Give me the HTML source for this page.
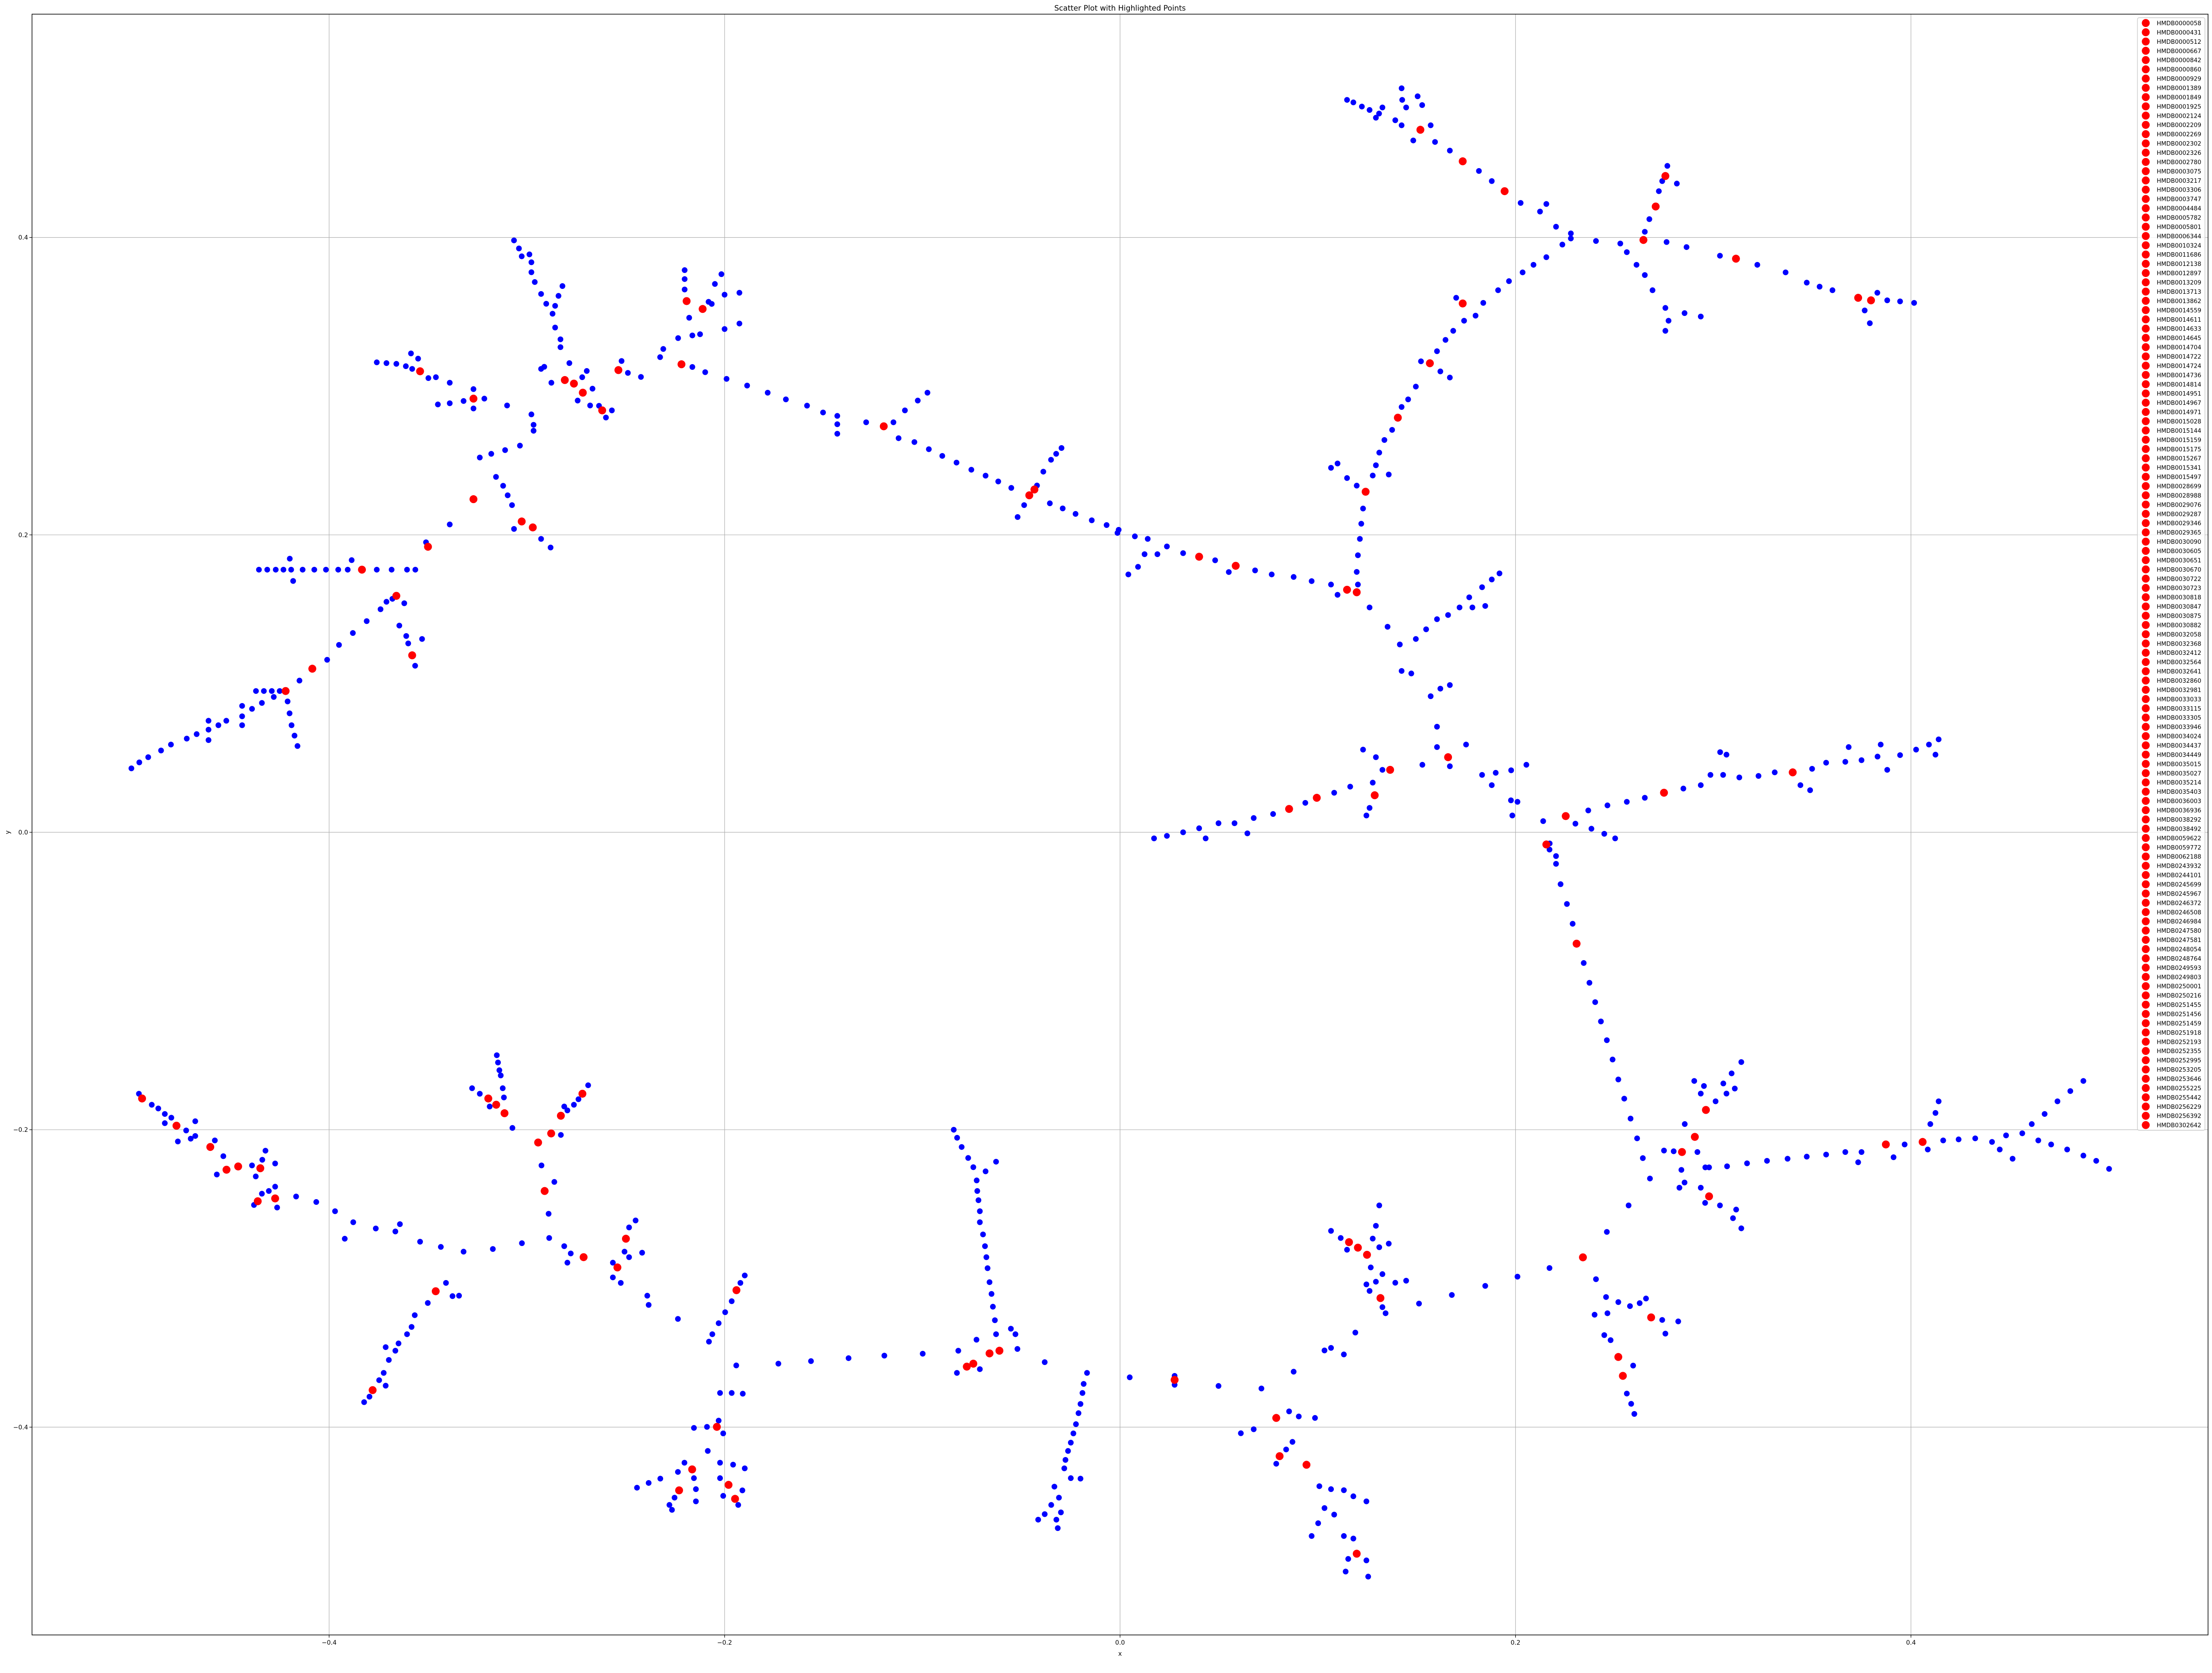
<!DOCTYPE html>
<html><head><meta charset="utf-8"><title>Scatter Plot with Highlighted Points</title>
<style>
html,body{margin:0;padding:0;background:#fff;overflow:hidden;width:100%;height:100%;}
svg{display:block;position:fixed;left:0;top:0;width:100vw;height:100vh;font-family:"DejaVu Sans","Liberation Sans",sans-serif;}
</style></head>
<body>
<svg id="chart" viewBox="0 0 5042 3781" preserveAspectRatio="none" xmlns="http://www.w3.org/2000/svg">
<rect x="0" y="0" width="5042" height="3781" fill="#fff"/>
<text x="2553" y="24" font-size="17" text-anchor="middle" fill="#000">Scatter Plot with Highlighted Points</text>
<g id="grid"></g>
<g id="blue"></g>
<g id="red"></g>
<rect x="73" y="32" width="4960" height="3663" fill="none" stroke="#000" stroke-width="1.5"/>
<g id="axes"></g>
<text x="2553" y="3742" font-size="14" text-anchor="middle">x</text>
<text x="22" y="1881" font-size="14" text-anchor="middle" transform="rotate(-90 22 1881)">y</text>
<g id="legend"></g>
</svg>
<script>
const xTicks = [-0.4, -0.2, 0.0, 0.2, 0.4];
const yTicks = [-0.4, -0.2, 0.0, 0.2, 0.4];
const xTickLabels = ["\u22120.4", "\u22120.2", "0.0", "0.2", "0.4"];
const yTickLabels = ["\u22120.4", "\u22120.2", "0.0", "0.2", "0.4"];

const branchTopLeft = [
[-0.500,0.043],[-0.496,0.047],[-0.4915,0.0505],[-0.485,0.055],[-0.480,0.059],[-0.472,0.063],[-0.467,0.066],[-0.461,0.069],[-0.461,0.062],[-0.461,0.075],[-0.456,0.072],[-0.452,0.075],[-0.444,0.078],[-0.444,0.085],[-0.444,0.072],[-0.439,0.083],[-0.434,0.087],[-0.428,0.091],
[-0.437,0.095],[-0.433,0.095],[-0.429,0.095],[-0.425,0.095],[-0.421,0.088],[-0.420,0.080],[-0.419,0.072],[-0.4175,0.065],[-0.416,0.058],
[-0.415,0.102],[-0.4085,0.110],[-0.401,0.116],[-0.395,0.126],[-0.388,0.134],[-0.381,0.142],[-0.374,0.150],[-0.368,0.157],[-0.366,0.159],
[-0.3645,0.139],[-0.361,0.132],[-0.360,0.127],[-0.358,0.119],[-0.3565,0.112],[-0.353,0.130],[-0.371,0.155],[-0.362,0.154],
[-0.4355,0.1766],[-0.4313,0.1766],[-0.427,0.1766],[-0.4231,0.1766],[-0.4192,0.1766],[-0.4134,0.1766],[-0.4075,0.1766],[-0.4016,0.1766],[-0.3954,0.1766],[-0.3906,0.1766],[-0.3834,0.1766],[-0.3759,0.1766],[-0.3684,0.1766],[-0.3606,0.1766],[-0.3564,0.1766],
[-0.4199,0.184],[-0.4182,0.169],[-0.3886,0.183],
[-0.35,0.192],[-0.351,0.195],[-0.339,0.207],[-0.327,0.224],[-0.3156,0.239],[-0.3238,0.252],[-0.318,0.2545],[-0.311,0.257],[-0.3035,0.26],[-0.2977,0.281],[-0.2966,0.274],[-0.2966,0.270],[-0.310,0.287],
[-0.312,0.233],[-0.3097,0.2266],[-0.3075,0.22],[-0.3026,0.209],[-0.297,0.205],[-0.3065,0.204],[-0.2928,0.1973],[-0.288,0.1915],
[-0.3759,0.316],[-0.371,0.3155],[-0.366,0.315],[-0.3612,0.3134],[-0.358,0.3116],[-0.354,0.310],[-0.3586,0.322],[-0.355,0.3185],[-0.3498,0.3054],[-0.346,0.306],[-0.339,0.3023],
[-0.345,0.2877],[-0.339,0.2885],[-0.332,0.290],[-0.327,0.2916],[-0.3215,0.2916],[-0.327,0.298],[-0.327,0.285],
[-0.3065,0.398],[-0.304,0.3926],[-0.3026,0.3873],[-0.2987,0.3886],[-0.2977,0.3833],[-0.2977,0.3766],[-0.296,0.37],[-0.2928,0.362],[-0.2902,0.3554],[-0.287,0.3487],[-0.2857,0.3394],[-0.283,0.3315],[-0.283,0.3262],[-0.2857,0.354],[-0.284,0.3607],[-0.282,0.3673],
[-0.2928,0.3116],[-0.2912,0.313],[-0.2876,0.3023],[-0.2808,0.3041],[-0.2762,0.3017],[-0.2717,0.2956],[-0.2785,0.3155],[-0.2697,0.3102],[-0.272,0.306],[-0.2668,0.2983],[-0.2743,0.2903],[-0.268,0.287],[-0.2619,0.2837],[-0.257,0.2837],[-0.26,0.2789],[-0.2635,0.2868],
[-0.2537,0.3108],[-0.2489,0.3089],[-0.2423,0.3062],[-0.2521,0.3169],
[-0.2218,0.3147],[-0.2202,0.378],[-0.2202,0.372],[-0.2202,0.365],[-0.2192,0.3572],[-0.2179,0.346],[-0.2111,0.3519],[-0.2081,0.3567],[-0.2049,0.3687],[-0.2016,0.3753],[-0.2065,0.3553],[-0.2,0.3615],[-0.1925,0.3628],
[-0.2163,0.3341],[-0.2124,0.3349],[-0.2,0.3384],[-0.1925,0.3421],[-0.2235,0.3323],[-0.2326,0.3195],[-0.231,0.325],
[-0.2163,0.3129],[-0.2098,0.3094],[-0.199,0.3049],[-0.1886,0.3004],[-0.1782,0.2956],[-0.169,0.2911],[-0.1583,0.2869],[-0.1502,0.2823],[-0.1430,0.2744],[-0.143,0.268],[-0.143,0.280],[-0.1195,0.273],[-0.1284,0.2757],
[-0.1146,0.2757],[-0.1088,0.2837],[-0.1023,0.2903],[-0.0974,0.2956],[-0.112,0.265],
[-0.104,0.2624],[-0.0967,0.2576],[-0.0899,0.2531],[-0.0827,0.2486],[-0.0752,0.2438],[-0.068,0.2398],[-0.0616,0.2359],[-0.055,0.2316],[-0.0459,0.2266],[-0.0433,0.2305],
[-0.042,0.2332],[-0.0388,0.2425],[-0.0349,0.2505],[-0.0323,0.2545],[-0.0296,0.2584],[-0.0485,0.22],[-0.0518,0.212],
[-0.0355,0.2212],[-0.029,0.2178],[-0.0225,0.2141],[-0.0143,0.2098],[-0.0068,0.2066],[-0.0013,0.2013]
];

const branchTopRight = [
[0.1148,0.4925],[0.118,0.4908],[0.1223,0.488],[0.1262,0.4857],[0.131,0.4833],[0.1294,0.4805],[0.1327,0.4874],[0.1424,0.5003],[0.1427,0.4925],[0.1447,0.4874],[0.1505,0.4949],[0.1528,0.489],[0.1392,0.4788],[0.1424,0.4754],[0.1519,0.4724],[0.1483,0.4652],[0.1571,0.4754],
[0.1593,0.4642],[0.1668,0.4584],[0.1733,0.4512],[0.1815,0.4447],[0.1880,0.4379],[0.1945,0.4311],[0.2026,0.4232],[0.2124,0.4174],[0.2156,0.4225],[0.2205,0.4072],[0.228,0.4027],[0.228,0.3993],
[0.2407,0.3976],[0.2530,0.3959],[0.2647,0.3983],[0.2764,0.3969],[0.2865,0.3935],[0.3034,0.3877],[0.3115,0.3857],[0.3223,0.3816],[0.3366,0.3765],[0.3473,0.3696],[0.3538,0.3669],[0.3603,0.3645],[0.3733,0.3594],[0.3798,0.3577],[0.3880,0.3577],[0.3945,0.357],[0.4016,0.356],[0.3766,0.3509],[0.3792,0.3423],[0.383,0.3628],
[0.2654,0.4038],[0.2677,0.4123],[0.2709,0.4208],[0.2725,0.4311],[0.2742,0.4379],[0.2758,0.4413],[0.2768,0.4481],[0.2816,0.4362],
[0.2563,0.3901],[0.2612,0.3816],[0.2654,0.3747],[0.2693,0.3645],[0.2758,0.3526],[0.2774,0.344],[0.2758,0.3372],[0.2855,0.3491],[0.2937,0.3468],
[0.2237,0.3952],[0.2156,0.3867],[0.2091,0.3816],[0.2036,0.3765],[0.1967,0.3706],[0.1912,0.3645],[0.1837,0.356],[0.1733,0.3556],[0.17,0.3594],[0.1798,0.3474],[0.1740,0.344],[0.1685,0.3372],[0.1646,0.3311],[0.1603,0.3235],[0.1567,0.3154],[0.1522,0.3167],[0.1620,0.3099],[0.1668,0.3058],[0.1496,0.2997],[0.1457,0.2911],[0.1424,0.286],[0.1405,0.2788],[0.1376,0.2706],[0.1337,0.2638],[0.1311,0.2553],[0.1294,0.2468],[0.1278,0.2399],[0.1359,0.2406],[0.1067,0.2451],[0.11,0.248],[0.1148,0.2382],[0.1197,0.2331],[0.1242,0.229],[0.1229,0.2177],[0.1220,0.2075],[0.1213,0.1973],[0.1203,0.1863],[0.1197,0.1751],[0.1203,0.1666],[0.1148,0.1631],[0.1197,0.1614],[0.11,0.1597],
[-0.0007,0.2034],[0.0075,0.1990],[0.014,0.1973],[0.0237,0.1922],[0.0124,0.187],[0.0042,0.1734],[0.0091,0.1785],[0.0189,0.187],[0.0319,0.1877],[0.04,0.1853],[0.0481,0.1829],[0.0585,0.1792],[0.0550,0.175],[0.0683,0.1761],[0.0767,0.1734],[0.0878,0.1717],[0.0969,0.1689],[0.1067,0.1666],
[0.1262,0.1512],[0.1353,0.1382],[0.1415,0.1263],[0.1424,0.1085],[0.1473,0.1068],[0.1571,0.0915],[0.1620,0.0966],[0.1668,0.099],[0.1603,0.071],[0.1659,0.0505],[0.1603,0.0573],[0.1750,0.0590],[0.1668,0.0444],
[0.1496,0.13],[0.1548,0.1365],[0.1603,0.1433],[0.1659,0.1461],[0.1717,0.1512],[0.1782,0.1512],[0.1847,0.1522],[0.1766,0.158],[0.1831,0.1648],[0.1880,0.17],[0.1919,0.1741],
[0.0172,-0.0041],[0.0237,-0.0024],[0.0319,0.0],[0.04,0.0027],[0.0433,-0.0041],[0.0498,0.0061],[0.0579,0.0061],[0.0676,0.0096],[0.0644,-0.0007],[0.0774,0.0123],[0.0855,0.0157],[0.0937,0.0198],[0.0995,0.0232],[0.1083,0.0266],[0.1164,0.0307],[0.1288,0.0249],[0.1278,0.0334],[0.1262,0.0164],[0.1246,0.0113],[0.1229,0.0556],[0.1294,0.0505],[0.1366,0.042],[0.1327,0.042],[0.1529,0.0454],
[0.1831,0.0386],[0.19,0.040],[0.1978,0.0417],[0.2055,0.0454],[0.1880,0.0317],[0.1977,0.0215],[0.1984,0.0113],[0.2010,0.0205],
[0.214,0.0075],[0.2254,0.0109],[0.2173,-0.0075],[0.2205,-0.016],[0.2303,0.0058],[0.2384,0.0024],[0.2449,-0.001],[0.2504,-0.0041],
[0.2368,0.0147],[0.2465,0.0181],[0.2563,0.0205],[0.2654,0.0232],[0.2751,0.0266],[0.2849,0.0294],[0.2937,0.0317],[0.2986,0.0386],[0.3050,0.0386],[0.3132,0.0369],[0.3067,0.0522],[0.3035,0.0539],[0.3229,0.0379],[0.3311,0.0403],[0.3402,0.0403],[0.3441,0.0317],[0.349,0.0283],[0.35,0.0427],[0.3571,0.0468],[0.3668,0.0474],[0.3685,0.0573],[0.375,0.0485],[0.3831,0.0509],[0.3847,0.0590],[0.388,0.0420],[0.3945,0.0519],[0.4026,0.0556],[0.4091,0.0590],[0.4140,0.0625],[0.4124,0.0522]
];

const branchBottomRight = [
[0.2156,-0.0082],[0.2172,-0.0116],[0.2205,-0.0212],[0.2228,-0.0349],[0.226,-0.0482],[0.2289,-0.0615],[0.2309,-0.0749],[0.2345,-0.0879],[0.2374,-0.1012],[0.2403,-0.1142],[0.2432,-0.1272],[0.2462,-0.1398],[0.2491,-0.1528],[0.2520,-0.1662],[0.2550,-0.1791],[0.2582,-0.1925],[0.2615,-0.2058],[0.2644,-0.2191],[0.2680,-0.2328],[0.2572,-0.2509],[0.2462,-0.2687],[0.2341,-0.2858],[0.2172,-0.293],[0.201,-0.2988],[0.1847,-0.305],[0.1678,-0.3111],[0.1512,-0.3169],[0.1317,-0.3132],[0.1327,-0.3193],[0.1343,-0.3234],[0.1190,-0.3364],[0.1067,-0.3467],[0.1034,-0.3484],[0.1132,-0.3511],[0.0878,-0.3627],[0.0715,-0.374],[0.0498,-0.3723],[0.0276,-0.3682],[0.0276,-0.3655],[0.0276,-0.3715],[0.0049,-0.3665],
[0.1158,-0.2756],[0.1203,-0.2793],[0.1249,-0.2841],[0.1067,-0.268],[0.1116,-0.2728],[0.1148,-0.2807],[0.1311,-0.2509],[0.1294,-0.2646],[0.1278,-0.2732],[0.1311,-0.2790],[0.1359,-0.2766],[0.1268,-0.2926],[0.1246,-0.304],[0.1294,-0.3022],[0.1327,-0.2971],[0.1392,-0.3029],[0.1447,-0.3015],[0.1262,-0.3084],
[0.2407,-0.3005],[0.2458,-0.3125],[0.2520,-0.3159],[0.2579,-0.3186],[0.2628,-0.3166],[0.2660,-0.3135],[0.2686,-0.3262],[0.2742,-0.3279],[0.2823,-0.3289],[0.2758,-0.3371],[0.2400,-0.3244],[0.2465,-0.3234],[0.2449,-0.3381],[0.2481,-0.3415],[0.2520,-0.3528],[0.2595,-0.3586],[0.2543,-0.3655],[0.2563,-0.3774],[0.2585,-0.3843],[0.2601,-0.3911],
[0.2963,-0.1867],[0.2907,-0.2048],[0.2842,-0.215],[0.2751,-0.214],[0.2800,-0.2145],[0.2920,-0.2150],[0.2904,-0.1672],[0.2937,-0.1757],[0.2953,-0.1706],[0.3051,-0.1689],[0.3067,-0.1757],[0.3109,-0.1723],[0.3093,-0.1621],[0.3142,-0.1545],[0.3012,-0.1809],[0.2856,-0.1962],[0.2839,-0.227],[0.2960,-0.2253],[0.2979,-0.2253],[0.2855,-0.2355],[0.2829,-0.2390],[0.2979,-0.2448],[0.2937,-0.239],[0.2959,-0.2492],[0.3034,-0.2509],[0.3116,-0.2537],[0.3100,-0.2595],[0.3142,-0.2663],
[0.307,-0.2246],[0.3171,-0.2226],[0.3272,-0.2209],[0.3376,-0.2195],[0.3473,-0.2181],[0.3571,-0.2167],[0.3668,-0.215],[0.3733,-0.2219],[0.3750,-0.215],[0.3873,-0.2099],[0.3912,-0.2185],[0.3968,-0.2099],[0.4059,-0.2082],[0.4085,-0.2133],[0.4098,-0.1962],[0.4124,-0.1887],[0.4140,-0.1809],[0.4163,-0.2072],[0.4241,-0.2065],[0.4325,-0.2058],[0.4410,-0.2082],[0.4449,-0.2133],[0.4514,-0.2195],[0.4481,-0.2038],[0.4563,-0.2024],[0.4611,-0.1962],[0.4676,-0.1894],[0.4741,-0.1809],[0.4806,-0.174],[0.4872,-0.1672],[0.4644,-0.2072],[0.4709,-0.2099],[0.4790,-0.2133],[0.4872,-0.2174],[0.4937,-0.2209],[0.5002,-0.2263],
[0.0611,-0.4041],[0.0676,-0.4014],[0.0790,-0.3938],[0.0855,-0.3894],[0.0904,-0.3928],[0.0986,-0.3938],[0.0872,-0.4099],[0.0840,-0.4150],[0.0807,-0.4195],[0.0790,-0.4246],[0.0943,-0.4253],[0.1008,-0.4397],[0.1067,-0.4417],[0.1132,-0.4424],[0.1180,-0.4465],[0.1246,-0.4499],[0.1034,-0.4544],[0.1083,-0.4588],[0.1002,-0.4646],[0.0969,-0.4732],[0.1132,-0.4732],[0.1180,-0.4749],[0.1197,-0.4851],[0.1154,-0.4886],[0.1141,-0.4971],[0.1246,-0.4896],[0.1255,-0.5005]
];

const branchBottomLeft = [
[-0.4962,-0.1758],[-0.4946,-0.1783],[-0.4946,-0.179],[-0.4897,-0.1832],[-0.4864,-0.1857],[-0.4831,-0.1894],[-0.4798,-0.1919],[-0.4831,-0.1956],[-0.4772,-0.1973],[-0.4723,-0.2005],[-0.4677,-0.1943],[-0.4677,-0.2042],[-0.4765,-0.2079],[-0.4700,-0.206],[-0.4601,-0.2116],[-0.4578,-0.2072],[-0.4535,-0.2178],[-0.4519,-0.2269],[-0.4568,-0.2301],[-0.446,-0.2247],[-0.4348,-0.2259],[-0.4390,-0.2240],[-0.4322,-0.2141],[-0.4338,-0.2202],[-0.4273,-0.2227],[-0.4371,-0.2314],[-0.4305,-0.2412],[-0.4273,-0.2383],[-0.4340,-0.2430],[-0.4361,-0.2481],[-0.438,-0.2506],[-0.4273,-0.2462],[-0.4263,-0.2523],
[-0.4167,-0.2449],[-0.4065,-0.2486],[-0.3970,-0.2548],[-0.3878,-0.2622],[-0.3921,-0.2733],[-0.3764,-0.2664],[-0.3665,-0.2684],[-0.3642,-0.2635],[-0.3540,-0.2753],[-0.3435,-0.2788],[-0.3320,-0.282],[-0.3172,-0.2802],[-0.3025,-0.2763],[-0.2887,-0.2728],
[-0.289,-0.2565],[-0.291,-0.2412],[-0.2861,-0.2351],[-0.2926,-0.224],[-0.2943,-0.2086],[-0.2877,-0.2025],[-0.2828,-0.2035],[-0.3073,-0.1988],[-0.3113,-0.1889],[-0.3155,-0.1832],[-0.3195,-0.179],[-0.3277,-0.1721],[-0.3238,-0.1758],[-0.3188,-0.1844],[-0.3116,-0.1783],[-0.3122,-0.1721],[-0.3132,-0.1635],[-0.3139,-0.1600],[-0.3146,-0.1548],[-0.3152,-0.1499],[-0.2828,-0.1906],[-0.2811,-0.1844],[-0.2795,-0.1870],[-0.2762,-0.1832],[-0.2739,-0.1795],[-0.2719,-0.1758],[-0.2690,-0.1701],
[-0.2811,-0.2783],[-0.2778,-0.2832],[-0.2713,-0.2857],[-0.2795,-0.2894],
[-0.245,-0.261],[-0.2483,-0.2657],[-0.2499,-0.2733],[-0.2506,-0.2820],[-0.2483,-0.2857],[-0.2417,-0.2827],[-0.2565,-0.2894],[-0.2542,-0.2926],[-0.2565,-0.2993],[-0.2525,-0.303],[-0.2391,-0.3116],[-0.2384,-0.3178],[-0.2236,-0.3272],
[-0.3376,-0.3119],[-0.3409,-0.303],[-0.3343,-0.3116],[-0.3461,-0.3086],[-0.3501,-0.3165],[-0.3567,-0.3247],[-0.3583,-0.3326],[-0.3606,-0.3375],[-0.3649,-0.3437],[-0.3714,-0.3462],[-0.3665,-0.3486],[-0.3698,-0.3548],[-0.3724,-0.3635],[-0.3747,-0.3684],[-0.3714,-0.3721],[-0.378,-0.3751],[-0.3796,-0.3795],[-0.3823,-0.3832],
[-0.1941,-0.3585],[-0.1728,-0.3573],[-0.1563,-0.3556],[-0.1373,-0.3536],[-0.1192,-0.3519],[-0.0998,-0.3506],[-0.0818,-0.3486],[-0.0775,-0.3593],[-0.0742,-0.3573],[-0.0825,-0.3635],[-0.0709,-0.361],[-0.066,-0.3504],[-0.061,-0.3486],[-0.0529,-0.3375],[-0.0552,-0.3338],[-0.0519,-0.3474],[-0.0726,-0.3412],[-0.0627,-0.3375],[-0.0381,-0.3563],
[-0.0841,-0.2],[-0.0824,-0.2054],[-0.0801,-0.2116],[-0.0768,-0.219],[-0.0742,-0.2252],[-0.0627,-0.2215],[-0.0680,-0.2280],[-0.0725,-0.2341],[-0.0722,-0.2412],[-0.0716,-0.2474],[-0.0709,-0.2548],[-0.0709,-0.2622],[-0.0693,-0.2704],[-0.0683,-0.2783],[-0.0676,-0.2857],[-0.0670,-0.2931],[-0.066,-0.3025],[-0.065,-0.3104],[-0.0643,-0.319],[-0.0633,-0.3281],
[-0.0167,-0.3635],[-0.0184,-0.3709],[-0.019,-0.377],[-0.02,-0.3844],[-0.021,-0.3906],[-0.0223,-0.398],[-0.0236,-0.4042],[-0.0249,-0.4104],[-0.0263,-0.4160],[-0.0276,-0.422],[-0.0282,-0.4277],[-0.0249,-0.4343],[-0.02,-0.4346],[-0.0332,-0.44],[-0.0309,-0.4474],[-0.0348,-0.4523],[-0.0299,-0.4573],[-0.0322,-0.4622],[-0.0315,-0.4679],[-0.0414,-0.4622],[-0.0381,-0.4585],
[-0.1964,-0.377],[-0.2023,-0.377],[-0.1908,-0.3775],[-0.203,-0.3956],[-0.2155,-0.4005],[-0.2089,-0.3998],[-0.2039,-0.3998],[-0.2007,-0.4042],[-0.2085,-0.416],[-0.2023,-0.4239],[-0.1957,-0.4252],[-0.1898,-0.4277],[-0.2164,-0.4284],[-0.2203,-0.4239],[-0.2236,-0.4301],[-0.2325,-0.4346],[-0.2384,-0.4375],[-0.2443,-0.4407],[-0.223,-0.4425],[-0.2253,-0.4474],[-0.2279,-0.4523],[-0.2266,-0.4556],[-0.2155,-0.4343],[-0.2145,-0.4417],[-0.2145,-0.4499],[-0.198,-0.4388],[-0.2007,-0.4462],[-0.2023,-0.4343],[-0.191,-0.4425],[-0.1947,-0.4482],[-0.1931,-0.4523],
[-0.194,-0.3079],[-0.1898,-0.298],[-0.1920,-0.303],[-0.1964,-0.3153],[-0.1997,-0.3227],[-0.203,-0.3301],[-0.2062,-0.3375],[-0.2079,-0.3425]
];

const highlightPoints = [
[-0.422,0.095],[-0.4085,0.110],[-0.366,0.159],[-0.358,0.119],[-0.3834,0.1766],[-0.35,0.192],[-0.327,0.224],[-0.3026,0.209],[-0.297,0.205],[-0.354,0.310],[-0.327,0.2916],[-0.2808,0.3041],[-0.2762,0.3017],[-0.2717,0.2956],[-0.2619,0.2837],[-0.2537,0.3108],[-0.2218,0.3147],[-0.2192,0.3572],[-0.2111,0.3519],[-0.1195,0.273],[-0.0459,0.2266],[-0.0433,0.2305],
[0.1519,0.4724],[0.1733,0.4512],[0.1945,0.4311],[0.2647,0.3983],[0.3115,0.3857],[0.3733,0.3594],[0.3798,0.3577],[0.2709,0.4208],[0.2758,0.4413],[0.1733,0.3556],[0.1567,0.3154],[0.1405,0.2788],[0.1242,0.229],[0.1148,0.1631],[0.1197,0.1614],[0.04,0.1853],[0.0585,0.1792],[0.1659,0.0505],[0.0855,0.0157],[0.0995,0.0232],[0.1288,0.0249],[0.1366,0.042],[0.2254,0.0109],[0.2751,0.0266],[0.3402,0.0403],
[0.2156,-0.0082],[0.2309,-0.0749],[0.2341,-0.2858],[0.1317,-0.3132],[0.0276,-0.3682],[0.1158,-0.2756],[0.1203,-0.2793],[0.1249,-0.2841],[0.2686,-0.3262],[0.2520,-0.3528],[0.2543,-0.3655],[0.2963,-0.1867],[0.2907,-0.2048],[0.2842,-0.215],[0.2979,-0.2448],[0.3873,-0.2099],[0.4059,-0.2082],[0.0790,-0.3938],[0.0807,-0.4195],[0.0943,-0.4253],[0.1197,-0.4851],
[-0.4946,-0.179],[-0.4772,-0.1973],[-0.4601,-0.2116],[-0.4519,-0.2269],[-0.446,-0.2247],[-0.4348,-0.2259],[-0.4361,-0.2481],[-0.4273,-0.2462],[-0.291,-0.2412],[-0.2943,-0.2086],[-0.2877,-0.2025],[-0.3113,-0.1889],[-0.3155,-0.1832],[-0.3195,-0.179],[-0.2828,-0.1906],[-0.2719,-0.1758],[-0.2713,-0.2857],[-0.2499,-0.2733],[-0.2542,-0.2926],[-0.3461,-0.3086],[-0.378,-0.3751],[-0.0775,-0.3593],[-0.0742,-0.3573],[-0.066,-0.3504],[-0.061,-0.3486],[-0.2039,-0.3998],[-0.2164,-0.4284],[-0.223,-0.4425],[-0.198,-0.4388],[-0.1947,-0.4482],[-0.194,-0.3079]
];

const legendLabels = ["HMDB0000058","HMDB0000431","HMDB0000512","HMDB0000667","HMDB0000842","HMDB0000860","HMDB0000929","HMDB0001389","HMDB0001849","HMDB0001925","HMDB0002124","HMDB0002209","HMDB0002269","HMDB0002302","HMDB0002326","HMDB0002780","HMDB0003075",
"HMDB0003217","HMDB0003306","HMDB0003747","HMDB0004484","HMDB0005782","HMDB0005801","HMDB0006344","HMDB0010324","HMDB0011686","HMDB0012138","HMDB0012897","HMDB0013209","HMDB0013713","HMDB0013862","HMDB0014559","HMDB0014611","HMDB0014633","HMDB0014645","HMDB0014704","HMDB0014722","HMDB0014724","HMDB0014736","HMDB0014814","HMDB0014951","HMDB0014967","HMDB0014971","HMDB0015028","HMDB0015144","HMDB0015159","HMDB0015175","HMDB0015267","HMDB0015341","HMDB0015497","HMDB0028699","HMDB0028988",
"HMDB0029076","HMDB0029287","HMDB0029346","HMDB0029365","HMDB0030090","HMDB0030605","HMDB0030651","HMDB0030670","HMDB0030722","HMDB0030723","HMDB0030818","HMDB0030847","HMDB0030875","HMDB0030882","HMDB0032058","HMDB0032368","HMDB0032412","HMDB0032564","HMDB0032641","HMDB0032860","HMDB0032981","HMDB0033033","HMDB0033115","HMDB0033305","HMDB0033946","HMDB0034024","HMDB0034437","HMDB0034449","HMDB0035015","HMDB0035027","HMDB0035214","HMDB0035403","HMDB0036003","HMDB0036936","HMDB0038292",
"HMDB0038492","HMDB0059622","HMDB0059772","HMDB0062188","HMDB0243932","HMDB0244101","HMDB0245699","HMDB0245967","HMDB0246372","HMDB0246508","HMDB0246984","HMDB0247580","HMDB0247581","HMDB0248054","HMDB0248764","HMDB0249593","HMDB0249803","HMDB0250001","HMDB0250216","HMDB0251455","HMDB0251456","HMDB0251459","HMDB0251918","HMDB0252193","HMDB0252355","HMDB0252995","HMDB0253205","HMDB0253646","HMDB0255225","HMDB0255442","HMDB0256229","HMDB0256392","HMDB0302642"];

const NS = "http://www.w3.org/2000/svg";
const PL = 73, PR = 5033, PT = 32, PB = 3695;
const X0 = 2553, XS = 4507, Y0 = 1881, YS = 3361;
function xScale(v){ return X0 + v * XS; }
function yScale(v){ return Y0 - v * YS; }
function mk(tag, attrs, parent){
  const e = document.createElementNS(NS, tag);
  for (const k in attrs) e.setAttribute(k, attrs[k]);
  parent.appendChild(e);
  return e;
}

const grid = document.getElementById('grid');
const axes = document.getElementById('axes');
xTicks.forEach((t, i) => {
  const x = xScale(t);
  const gl = mk('line', {x1:x, x2:x, y1:PT, y2:PB, stroke:'#b0b0b0', 'stroke-width':1.2}, grid);
  
  
  const tk = mk('line', {x1:x, x2:x, y1:PB, y2:PB+6, stroke:'#000', 'stroke-width':1.2}, axes);
  
  
  const lb = mk('text', {x:x, y:PB+22, 'font-size':14, 'text-anchor':'middle', fill:'#000'}, axes);
  lb.textContent = xTickLabels[i];
  
  
});
yTicks.forEach((t, i) => {
  const y = yScale(t);
  const gl = mk('line', {x1:PL, x2:PR, y1:y, y2:y, stroke:'#b0b0b0', 'stroke-width':1.2}, grid);
  
  
  const tk = mk('line', {x1:PL-6, x2:PL, y1:y, y2:y, stroke:'#000', 'stroke-width':1.2}, axes);
  
  
  const lb = mk('text', {x:PL-9, y:y+5, 'font-size':14, 'text-anchor':'end', fill:'#000'}, axes);
  lb.textContent = yTickLabels[i];
  
  
});

const blue = document.getElementById('blue');
[branchTopLeft, branchTopRight, branchBottomRight, branchBottomLeft].forEach(arr => {
  arr.forEach(p => {
    const c = mk('circle', {cx:xScale(p[0]), cy:yScale(p[1]), r:6.5, fill:'#0000ff'}, blue);
    
    
  });
});
const red = document.getElementById('red');
highlightPoints.forEach(p => {
  const c = mk('circle', {cx:xScale(p[0]), cy:yScale(p[1]), r:9, fill:'#ff0000'}, red);
  
  
});

const legend = document.getElementById('legend');
const step = 20.93, firstY = 52;
const lastY = firstY + step * (legendLabels.length - 1);
const frame = mk('rect', {x:4872, y:40, width:154, height:lastY + 12 - 40, rx:4, fill:'#fff', 'fill-opacity':0.8, stroke:'#cccccc', 'stroke-width':1.5}, legend);


legendLabels.forEach((name, i) => {
  const cy = firstY + step * i;
  const g = mk('g', {}, legend);
  
  
  const m = mk('circle', {cx:4891, cy:cy, r:9, fill:'#ff0000'}, g);
  
  
  const t = mk('text', {x:4916, y:cy+5, 'font-size':13.5, fill:'#000'}, g);
  t.textContent = name;
  
  
});
</script>
</body></html>
